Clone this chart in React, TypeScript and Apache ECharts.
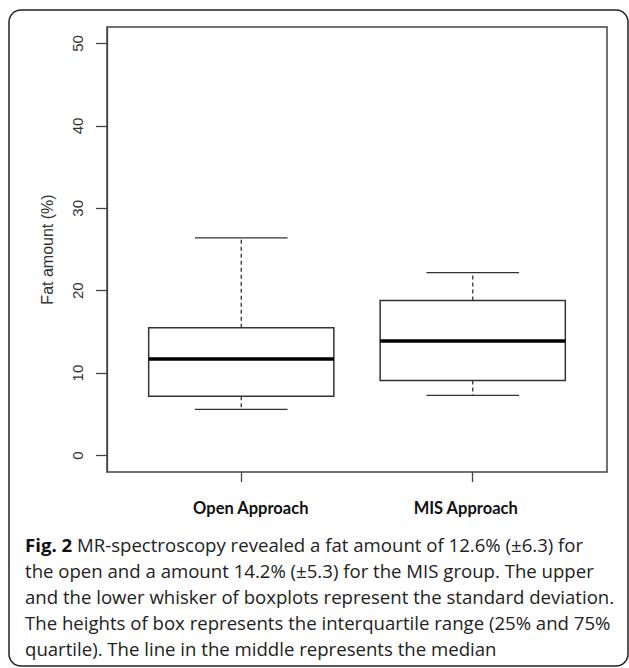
import React, { useEffect, useRef } from "react";
import * as echarts from "echarts";

const categories = ["Open Approach", "MIS Approach"];
const lowerWhisker = [5.6, 7.3];
const q1 = [7.2, 9.1];
const median = [11.7, 13.9];
const q3 = [15.5, 18.8];
const upperWhisker = [26.4, 22.2];
const yTicks = [0, 10, 20, 30, 40, 50];
const yAxisName = "Fat amount (%)";
const captionBold = "Fig. 2";
const captionLines = [
  " MR-spectroscopy revealed a fat amount of 12.6% (±6.3) for",
  "the open and a amount 14.2% (±5.3) for the MIS group. The upper",
  "and the lower whisker of boxplots represent the standard deviation.",
  "The heights of box represents the interquartile range (25% and 75%",
  "quartile). The line in the middle represents the median",
];

export default function App() {
  const ref = useRef<HTMLDivElement>(null);
  useEffect(() => {
    if (!ref.current) return;
    const chart = echarts.init(ref.current, null, { renderer: "svg" });
    const stroke = "#333";
    const data = categories.map((_, i) => [
      i + 1,
      lowerWhisker[i],
      q1[i],
      median[i],
      q3[i],
      upperWhisker[i],
    ]);
    const capFont = "Open Sans";
    const capSize = 18.6;
    const captionText =
      "{b|" + captionBold + "}{r|" + captionLines[0] + "}\n" +
      captionLines.slice(1).map((l) => "{r|" + l + "}").join("\n");
    const xLabelStyle = {
      fontFamily: "Lato",
      fontWeight: "bold",
      fontSize: 16.5,
      color: "#111",
    };
    chart.setOption({
      animation: false,
      backgroundColor: "#fff",
      grid: {
        left: 107,
        top: 27,
        right: 22,
        bottom: 196,
        show: true,
        borderColor: "#444",
        borderWidth: 1.5,
        backgroundColor: "transparent",
      },
      xAxis: {
        type: "value",
        min: 0.42,
        max: 2.58,
        splitLine: { show: false },
        axisLine: { show: false, onZero: false },
        axisTick: {
          show: true,
          length: 10,
          customValues: categories.map((_, i) => i + 1),
          lineStyle: { color: "#444", width: 1.3 },
        },
        axisLabel: {
          show: true,
          margin: 27,
          customValues: categories.map((_, i) => i + 1),
          formatter: (v: number) => {
            const idx = Math.round(v) - 1;
            return "{c" + idx + "|" + categories[idx] + "}";
          },
          rich: {
            c0: { ...xLabelStyle, padding: [0, 0, 0, 19] },
            c1: { ...xLabelStyle, padding: [0, 14, 0, 0] },
          },
        },
      },
      yAxis: {
        type: "value",
        min: -2,
        max: 52,
        name: yAxisName,
        nameLocation: "middle",
        nameRotate: 90,
        nameGap: 52,
        nameTextStyle: {
          fontFamily: "Liberation Sans",
          fontSize: 16,
          color: "#333",
        },
        splitLine: { show: false },
        axisLine: { show: true, onZero: false, lineStyle: { color: "#444", width: 1.3 } },
        axisTick: {
          show: true,
          length: 11,
          customValues: yTicks,
          lineStyle: { color: "#444", width: 1.3 },
        },
        axisLabel: {
          show: true,
          rotate: 90,
          margin: 22,
          customValues: yTicks,
          fontFamily: "Liberation Sans",
          fontSize: 15,
          color: "#333",
        },
      },
      series: [
        {
          type: "custom",
          data,
          encode: { x: 0, y: [1, 2, 3, 4, 5] },
          renderItem: (params: any, api: any) => {
            const x = api.value(0);
            const lo = api.coord([x, api.value(1)]);
            const b1 = api.coord([x, api.value(2)]);
            const med = api.coord([x, api.value(3)]);
            const b3 = api.coord([x, api.value(4)]);
            const hi = api.coord([x, api.value(5)]);
            const half = api.size([0.8, 0])[0] / 2;
            const cap = half / 2;
            const cx = lo[0];
            const ls = { stroke, lineWidth: 1.3 };
            return {
              type: "group",
              children: [
                {
                  type: "line",
                  shape: { x1: cx, y1: b3[1], x2: cx, y2: hi[1] },
                  style: { ...ls, lineDash: [4, 3] },
                },
                {
                  type: "line",
                  shape: { x1: cx, y1: b1[1], x2: cx, y2: lo[1] },
                  style: { ...ls, lineDash: [4, 3] },
                },
                {
                  type: "line",
                  shape: { x1: cx - cap, y1: hi[1], x2: cx + cap, y2: hi[1] },
                  style: ls,
                },
                {
                  type: "line",
                  shape: { x1: cx - cap, y1: lo[1], x2: cx + cap, y2: lo[1] },
                  style: ls,
                },
                {
                  type: "rect",
                  shape: {
                    x: cx - half,
                    y: b3[1],
                    width: 2 * half,
                    height: b1[1] - b3[1],
                  },
                  style: { fill: "#fff", stroke, lineWidth: 1.5 },
                },
                {
                  type: "line",
                  shape: { x1: cx - half, y1: med[1], x2: cx + half, y2: med[1] },
                  style: { stroke: "#000", lineWidth: 3.5 },
                },
              ],
            };
          },
        },
      ],
      graphic: [
        {
          type: "rect",
          shape: { x: 9, y: 10, width: 619, height: 656, r: 12 },
          style: { fill: "none", stroke: "#222", lineWidth: 1.5 },
          silent: true,
        },
        {
          type: "text",
          x: 25,
          y: 531,
          style: {
            text: captionText,
            fontFamily: capFont,
            fontSize: capSize,
            lineHeight: 26,
            fill: "#222",
            rich: {
              b: { fontFamily: capFont, fontWeight: "bold", fontSize: capSize, lineHeight: 26, fill: "#111" },
              r: { fontFamily: capFont, fontSize: capSize, lineHeight: 26, fill: "#222" },
            },
          },
        },
      ],
    });
    return () => chart.dispose();
  }, []);
  return (
    <div
      ref={ref}
      style={{ position: "fixed", left: 0, top: 0, width: 629, height: 668 }}
    />
  );
}
